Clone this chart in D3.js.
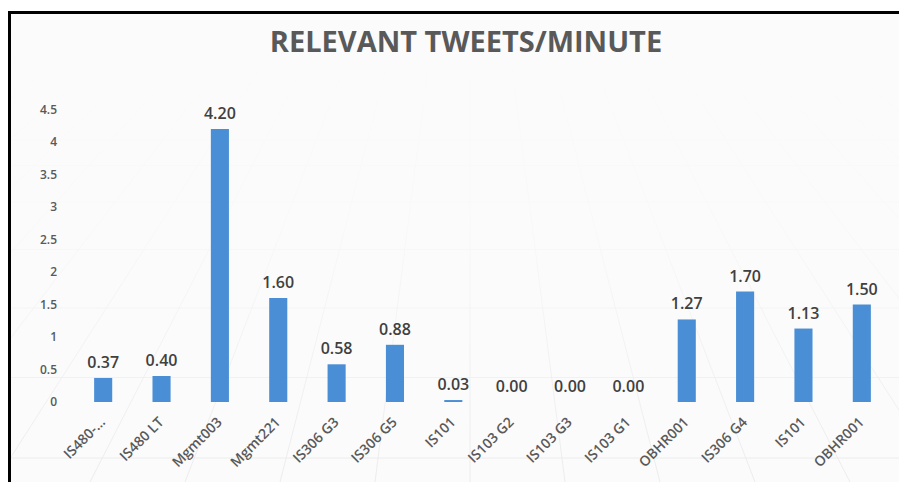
<!DOCTYPE html>
<html>
<head>
<meta charset="utf-8">
<script src="https://cdn.jsdelivr.net/npm/d3@7"></script>
<style>
  html, body { margin: 0; padding: 0; background: #fff; }
  svg { display: block; font-family: "Open Sans", "DejaVu Sans", sans-serif; }
</style>
</head>
<body>
<div id="vis"></div>
<script>
// chart data
const categories = ["IS480-…", "IS480 LT", "Mgmt003", "Mgmt221", "IS306 G3", "IS306 G5", "IS101",
    "IS103 G2", "IS103 G3", "IS103 G1", "OBHR001", "IS306 G4", "IS101", "OBHR001"];
const values = [0.37, 0.40, 4.20, 1.60, 0.58, 0.88, 0.03, 0.00, 0.00, 0.00, 1.27, 1.70, 1.13, 1.50];
const yTicks = [0, 0.5, 1, 1.5, 2, 2.5, 3, 3.5, 4, 4.5];
const title = "RELEVANT TWEETS/MINUTE";

const W = 899, H = 482;
const margin = { top: 110, right: 8, bottom: 80, left: 74 };

const svg = d3.select("#vis")
    .append("svg")
    .attr("width", W)
    .attr("height", H);

const defs = svg.append("defs");
defs.append("clipPath").attr("id", "frameClip")
    .append("rect").attr("x", 10).attr("y", 13).attr("width", W).attr("height", H);

// light background
svg.append("rect")
    .attr("x", 9).attr("y", 12)
    .attr("width", W + 10).attr("height", H)
    .attr("fill", "#fbfbfb");

// faint perspective floor grid (decoration only)
const deco = svg.append("g")
    .attr("clip-path", "url(#frameClip)")
    .attr("stroke", "#e2e2e2").attr("stroke-width", 0.8).attr("fill", "none");
const vx = 470, vy = -260;
d3.range(-12, 13).forEach(i => {
    deco.append("line")
        .attr("x1", vx).attr("y1", vy)
        .attr("x2", vx + i * 95).attr("y2", H);
});
d3.range(0, 9).forEach(i => {
    const yy = 140 + i * i * 5.5 + i * 20;
    deco.append("line")
        .attr("x1", 10).attr("x2", W)
        .attr("y1", yy).attr("y2", yy);
});
const fade = defs.append("linearGradient")
    .attr("id", "fade").attr("x1", 0).attr("y1", 0).attr("x2", 0).attr("y2", 1);
fade.append("stop").attr("offset", "0%").attr("stop-color", "#fbfbfb").attr("stop-opacity", 1);
fade.append("stop").attr("offset", "45%").attr("stop-color", "#fbfbfb").attr("stop-opacity", 0.85);
fade.append("stop").attr("offset", "100%").attr("stop-color", "#fbfbfb").attr("stop-opacity", 0.2);
svg.append("rect")
    .attr("x", 10).attr("y", 13)
    .attr("width", W).attr("height", H)
    .attr("fill", "url(#fade)");

// frame (top and left edges visible)
svg.append("path")
    .attr("d", `M9.5,${H}V12.5H${W}`)
    .attr("fill", "none")
    .attr("stroke", "#000")
    .attr("stroke-width", 3);

// scales
const x = d3.scaleBand()
    .domain(d3.range(categories.length))
    .range([margin.left, W - margin.right])
    .paddingInner(0.69)
    .paddingOuter(0.345);

const y = d3.scaleLinear()
    .domain([0, 4.5])
    .range([402, 109.5]);

// y axis labels
svg.append("g")
    .attr("transform", "translate(57,0)")
    .call(d3.axisLeft(y).tickValues(yTicks).tickSize(0).tickPadding(0).tickFormat(d => d))
    .call(g => g.select(".domain").remove())
    .call(g => g.selectAll("text")
        .attr("fill", "#595959")
        .style("font-size", "12px")
        .style("font-weight", 600)
        .style("font-family", "'Open Sans', sans-serif"));

// bars
svg.append("g")
    .selectAll("rect")
    .data(values)
    .join("rect")
    .attr("x", (d, i) => x(i))
    .attr("width", x.bandwidth())
    .attr("y", d => y(d))
    .attr("height", d => Math.max(y(0) - y(d), d > 0 ? 1.5 : 0))
    .attr("fill", "#4a8fd6");

// value labels
svg.append("g")
    .selectAll("text")
    .data(values)
    .join("text")
    .attr("x", (d, i) => x(i) + x.bandwidth() / 2)
    .attr("y", d => y(d) - 10)
    .attr("text-anchor", "middle")
    .attr("fill", "#404040")
    .style("font-size", "16px")
    .style("font-weight", 600)
    .text(d => d.toFixed(2));

// category labels
svg.append("g")
    .selectAll("text")
    .data(categories)
    .join("text")
    .attr("transform", (d, i) => `translate(${x(i) + x.bandwidth() / 2 + 3},${423}) rotate(-45)`)
    .attr("text-anchor", "end")
    .attr("fill", "#595959")
    .style("font-size", "14px")
    .style("font-weight", 600)
    .text(d => d);

// title
svg.append("text")
    .attr("x", 466)
    .attr("y", 52)
    .attr("text-anchor", "middle")
    .attr("fill", "#595959")
    .style("font-size", "29px")
    .style("font-weight", 700)
    .text(title);
</script>
</body>
</html>
